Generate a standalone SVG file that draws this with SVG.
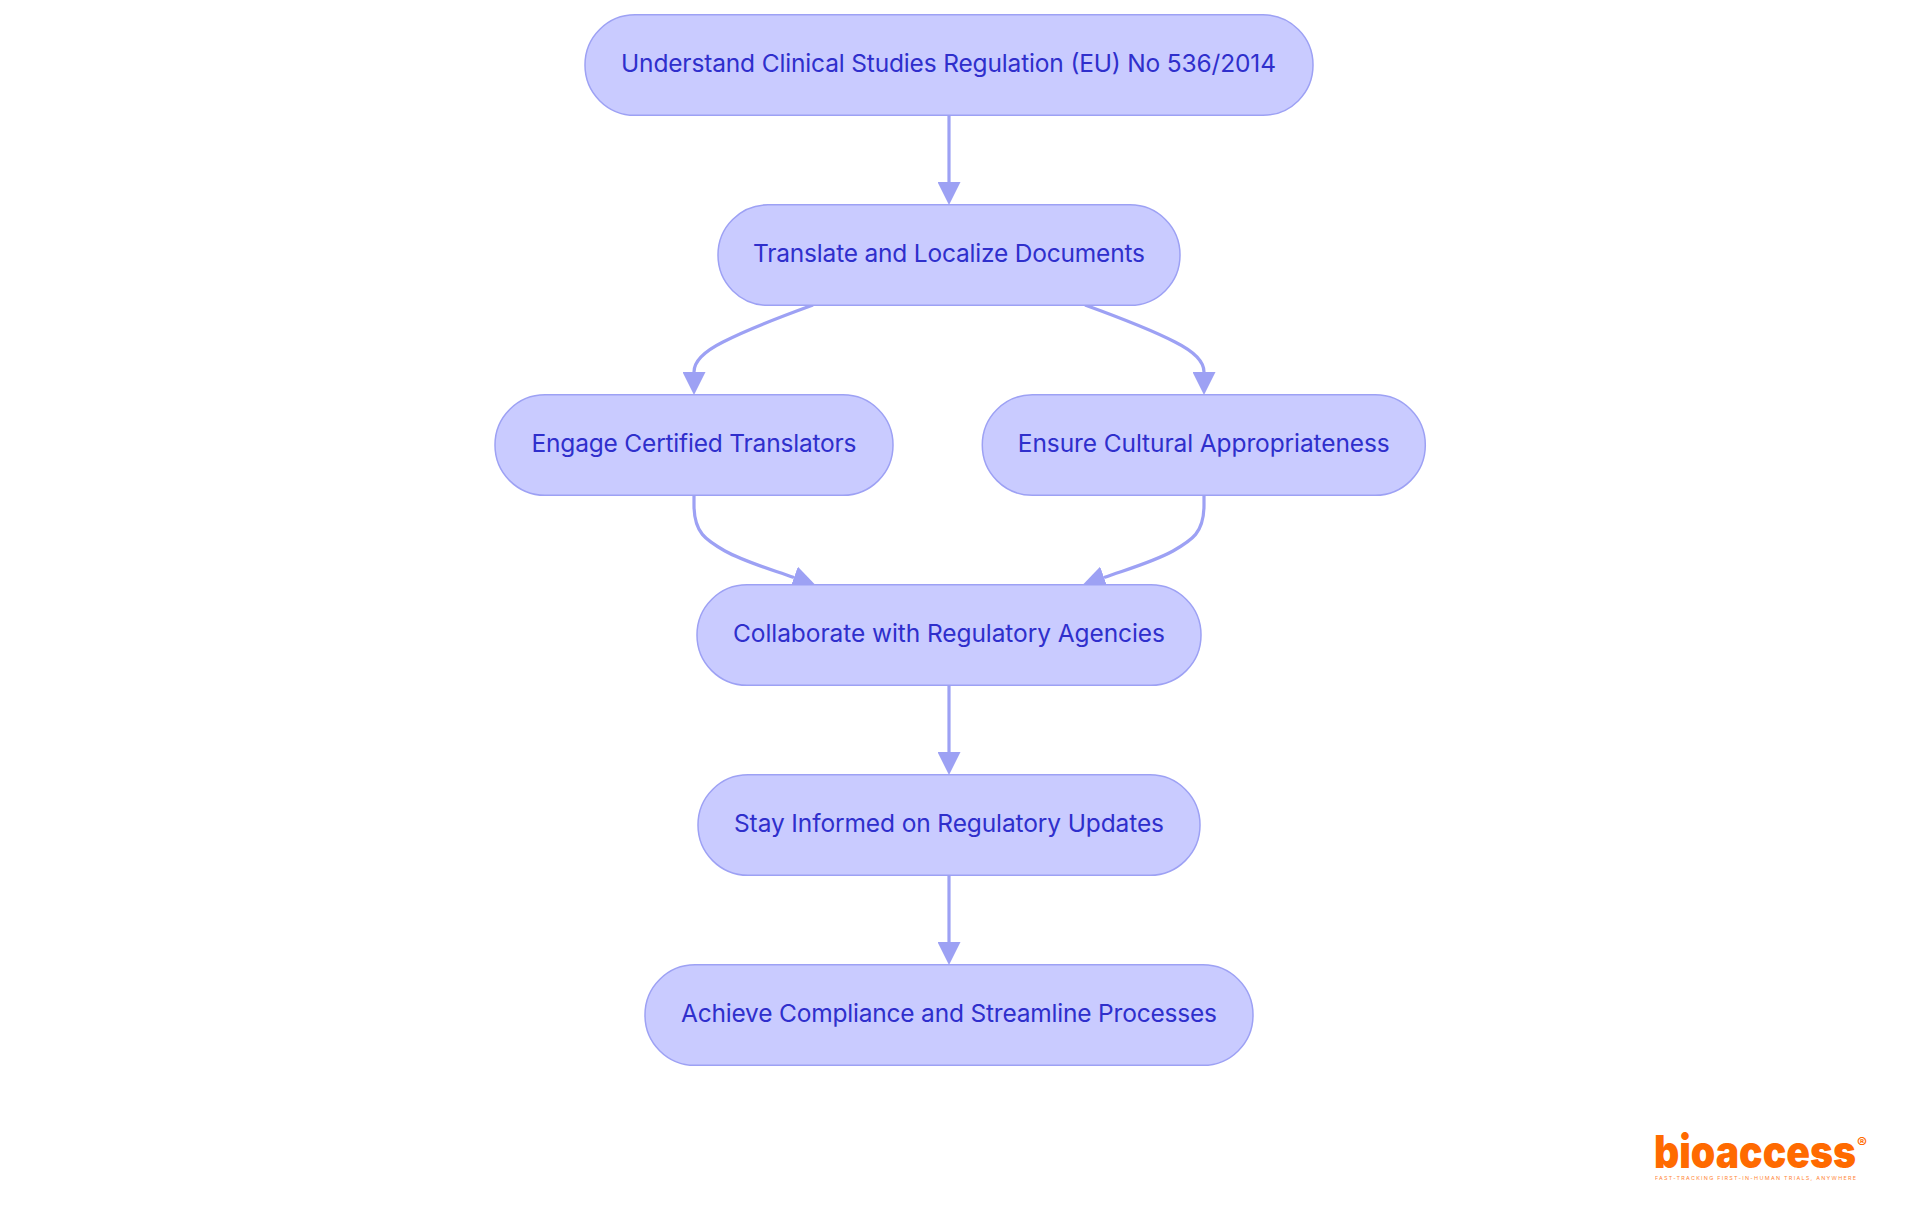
<svg xmlns="http://www.w3.org/2000/svg" width="1920" height="1215" viewBox="0 0 1920 1215">
<style>
.n{fill:#c9cbff;stroke:#9da1f4;stroke-width:1.5}
.t{font-family:"Inter","Liberation Sans",sans-serif;font-size:24.5px;fill:#2f2fcc;text-anchor:middle}
.e{fill:none;stroke:#9da1f4;stroke-width:3.2;marker-end:url(#a)}
.logo{font-family:"Inter","Liberation Sans",sans-serif;fill:#ff6a00}
</style>
<defs><marker id="a" markerUnits="userSpaceOnUse" markerWidth="23" markerHeight="23" viewBox="0 0 22 22" refX="0" refY="11" orient="auto"><path d="M0,0L22,11L0,22Z" fill="#9da1f4"/></marker></defs>
<rect width="1920" height="1215" fill="#fff"/>
<g id="connectors">
<path class="e" d="M949,115V182"/>
<path class="e" d="M813,305C780,317 750,328 723,342C703,352 694,362 694,372"/>
<path class="e" d="M1085,305C1118,317 1148,328 1175,342C1195,352 1204,362 1204,372"/>
<path class="e" d="M694,495V505C694,533 706,540 725,551C745,562 770,569 794,577.5"/>
<path class="e" d="M1204,495V505C1204,533 1192,540 1173,551C1153,562 1128,569 1104,577.5"/>
<path class="e" d="M949,685V752"/>
<path class="e" d="M949,875V942"/>
</g>
<g id="n1"><rect class="n" x="585" y="14.8" width="728" height="100.5" rx="50" ry="50"/><text class="t" x="948.5" y="71.5" textLength="655">Understand Clinical Studies Regulation (EU) No 536/2014</text></g>
<g id="n2"><rect class="n" x="718" y="204.8" width="462" height="100.5" rx="50" ry="50"/><text class="t" x="949" y="261.5" textLength="392">Translate and Localize Documents</text></g>
<g id="n3"><rect class="n" x="495" y="394.8" width="398" height="100.5" rx="50" ry="50"/><text class="t" x="694" y="451.5" textLength="325">Engage Certified Translators</text></g>
<g id="n4"><rect class="n" x="982.3" y="394.8" width="443" height="100.5" rx="50" ry="50"/><text class="t" x="1203.8" y="451.5" textLength="372">Ensure Cultural Appropriateness</text></g>
<g id="n5"><rect class="n" x="697" y="584.8" width="504" height="100.5" rx="50" ry="50"/><text class="t" x="949" y="641.5" textLength="432">Collaborate with Regulatory Agencies</text></g>
<g id="n6"><rect class="n" x="698" y="774.8" width="502" height="100.5" rx="50" ry="50"/><text class="t" x="949" y="831.5" textLength="430">Stay Informed on Regulatory Updates</text></g>
<g id="n7"><rect class="n" x="645" y="964.8" width="608" height="100.5" rx="50" ry="50"/><text class="t" x="949" y="1021.5" textLength="536">Achieve Compliance and Streamline Processes</text></g>
<g id="logo">
<text class="logo" x="1654" y="1167.5" font-size="45" font-weight="900" textLength="202" lengthAdjust="spacingAndGlyphs">bioaccess</text>
<text class="logo" x="1857" y="1148" font-size="15" font-weight="600">®</text>
<text class="logo" x="1655" y="1180" font-size="5.4" textLength="201" opacity="0.8">FAST-TRACKING FIRST-IN-HUMAN TRIALS, ANYWHERE</text>
</g>
</svg>
